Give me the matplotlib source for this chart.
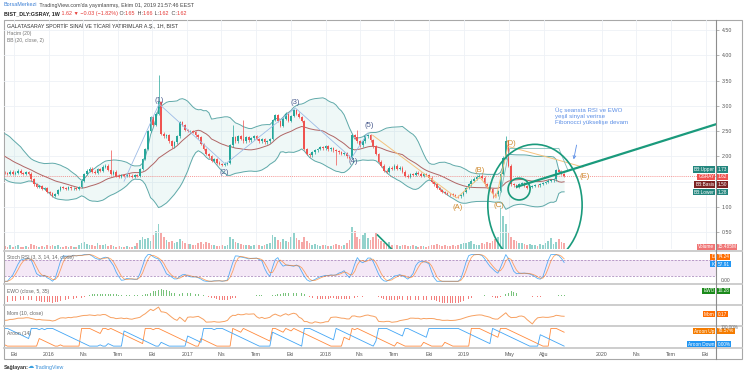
import numpy as np
import pandas as pd
import matplotlib
matplotlib.use("Agg")
import matplotlib.pyplot as plt
import matplotlib.dates as mdates
from matplotlib.patches import Ellipse, Rectangle
from matplotlib.lines import Line2D

plt.rcParams['font.family'] = ['Liberation Sans', 'DejaVu Sans']

# weekly closes BIST_DLY:GSRAY, first week 2015-09-07, last week 2019-09-30
close = [1.67, 1.65, 1.70, 1.66, 1.68, 1.72, 1.67, 1.65, 1.69, 1.66,
         1.55, 1.45, 1.40, 1.42, 1.36, 1.38, 1.30, 1.27, 1.22, 1.26,
         1.34, 1.40, 1.38, 1.36, 1.39, 1.37, 1.38, 1.36, 1.40, 1.52,
         1.65, 1.72, 1.76, 1.70, 1.68, 1.75, 1.72, 1.80, 1.82, 1.74,
         1.66, 1.70, 1.62, 1.60, 1.63, 1.61, 1.64, 1.62, 1.60, 1.63,
         1.62, 1.75, 1.95, 2.15, 2.50, 2.78, 2.62, 2.85, 3.08, 2.45,
         2.40, 2.42, 2.30, 2.20, 2.28, 2.40, 2.68, 2.62, 2.52, 2.50,
         2.50, 2.48, 2.42, 2.38, 2.25, 2.15, 2.05, 2.00, 1.92, 1.95,
         1.88, 1.85, 1.84, 1.86, 1.87, 2.22, 2.38, 2.30, 2.40, 2.35,
         2.30, 2.38, 2.32, 2.36, 2.40, 2.35, 2.30, 2.34, 2.28, 2.30,
         2.35, 2.72, 2.82, 2.70, 2.60, 2.75, 2.85, 2.70, 2.80, 2.92,
         2.85, 2.78, 2.70, 2.15, 2.05, 2.02, 2.08, 2.12, 2.15, 2.18,
         2.16, 2.20, 2.14, 2.17, 2.12, 2.10, 2.08, 2.05, 2.06, 2.00,
         1.98, 2.42, 2.38, 2.30, 2.22, 2.30, 2.40, 2.42, 2.32, 2.20,
         2.05, 1.90, 1.82, 1.72, 1.70, 1.78, 1.75, 1.82, 1.76, 1.78,
         1.70, 1.62, 1.60, 1.65, 1.63, 1.68, 1.66, 1.62, 1.65, 1.63,
         1.58, 1.50, 1.45, 1.38, 1.34, 1.30, 1.28, 1.26, 1.25, 1.24,
         1.22, 1.21, 1.24, 1.30, 1.38, 1.45, 1.52, 1.56, 1.60, 1.62,
         1.58, 1.45, 1.40, 1.36, 1.26, 1.25, 1.32, 1.65, 1.98, 2.30,
         1.82, 1.45, 1.43, 1.40, 1.46, 1.48, 1.42, 1.38, 1.40, 1.42,
         1.44, 1.43, 1.46, 1.48, 1.50, 1.52, 1.53, 1.55, 1.73, 1.70,
         1.65, 1.62]

# earlier weeks (off screen), estimated from where the bands/indicators start
lookback = [2.55, 2.60, 2.52, 2.48, 2.50, 2.45, 2.42, 2.46, 2.40, 2.38,
            2.42, 2.36, 2.40, 2.35, 2.38, 2.36, 2.35, 2.30, 2.28, 2.32,
            2.25, 2.20, 2.18, 2.22, 2.15, 2.10, 2.05, 2.00, 1.95, 1.90,
            1.85, 1.80, 1.75, 1.72, 1.70, 1.68]

# weekly volume, millions
volume_m = [8, 6, 10, 5, 7, 9, 6, 5, 7, 6,
            12, 9, 8, 6, 7, 5, 9, 8, 11, 7,
            10, 6, 5, 7, 6, 8, 5, 6, 9, 14,
            18, 12, 10, 9, 8, 15, 11, 9, 13, 8,
            9, 7, 6, 8, 5, 6, 7, 5, 6, 8,
            15, 22, 30, 25, 28, 20, 35, 45, 60, 38,
            30, 22, 18, 20, 15, 18, 25, 20, 15, 12,
            12, 10, 9, 14, 16, 12, 18, 15, 10, 9,
            8, 7, 9, 8, 10, 30, 25, 18, 14, 12,
            10, 9, 11, 8, 10, 12, 9, 8, 10, 12,
            15, 35, 30, 22, 18, 25, 20, 18, 30, 38,
            28, 22, 18, 30, 20, 14, 10, 12, 9, 8,
            9, 10, 7, 8, 9, 12, 10, 8, 11, 14,
            22, 55, 45, 30, 25, 35, 40, 28, 22, 30,
            38, 25, 20, 15, 12, 18, 10, 12, 9, 8,
            10, 9, 8, 7, 9, 8, 6, 7, 8, 6,
            8, 10, 9, 12, 10, 8, 9, 7, 8, 10,
            8, 10, 12, 15, 14, 18, 20, 12, 10, 11,
            14, 12, 18, 15, 20, 25, 30, 105, 80, 60,
            40, 30, 22, 20, 15, 14, 12, 10, 12, 9,
            10, 8, 12, 9, 15, 20, 28, 12, 18, 25,
            18, 15.485]

wick_high = {40: 2.12, 58: 3.61, 86: 2.62, 90: 2.72, 133: 2.52, 189: 2.40}
wick_low = {125: 1.83, 184: 1.18}

# elliott drawings (week index, price)
wave_blue = [(45.0, 1.51), (58.2, 3.04), (83.2, 1.85), (109.6, 2.96), (130.8, 1.97), (136.9, 2.46)]
wave_orange = [(138.8, 2.42), (170.5, 1.18), (179.2, 1.59), (185.3, 1.18), (189.8, 2.20), (208.7, 1.93), (218.1, 1.79)]
blue_labels = ["(1)", "(2)", "(3)", "(4)", "(5)"]
blue_label_pos = [(58.2, 3.10), (82.8, 1.69), (109.6, 3.06), (131.6, 1.91), (137.6, 2.62)]
orange_labels = ["(A)", "(B)", "(C)", "(D)", "(E)"]
orange_label_pos = [(170.9, 1.00), (179.2, 1.73), (186.4, 1.04), (190.9, 2.26), (218.9, 1.61)]

tick_dates = ["2015-10-01", "2016-01-01", "2016-04-01", "2016-07-01", "2016-10-01",
              "2017-01-01", "2017-04-01", "2017-07-01", "2017-10-01", "2018-01-01",
              "2018-04-01", "2018-07-01", "2018-10-01", "2019-01-01", "2019-05-01",
              "2019-08-01", "2020-01-01", "2020-04-01", "2020-07-01", "2020-10-01"]
tick_labels = ["Eki", "2016", "Nis", "Tem", "Eki", "2017", "Nis", "Tem", "Eki", "2018",
               "Nis", "Tem", "Eki", "2019", "May", "Ağu", "2020", "Nis", "Tem", "Eki"]
price_ticks = [0.5, 1.0, 1.5, 2.0, 2.5, 3.0, 3.5, 4.0, 4.5]
# the 1.50 label sits under the indicator tags
price_labels = ["0.50", "1.00", "", "2.00", "2.50", "3.00", "3.50", "4.00", "4.50"]

GREEN = '#26a69a'
RED = '#ef5350'
TEAL = '#1a9a7c'

# ---- series / indicators
n0 = len(lookback)
c_all = np.array(lookback + close)
o_all = np.r_[c_all[0], c_all[:-1]]
hi_all = np.maximum(o_all, c_all) + 0.025
lo_all = np.minimum(o_all, c_all) - 0.025
for k, v in wick_high.items():
    hi_all[n0 + k] = v
for k, v in wick_low.items():
    lo_all[n0 + k] = v

t0 = mdates.date2num(pd.Timestamp("2015-09-07"))
x_all = t0 + 7 * np.arange(-n0, len(close))
def wk(w):
    return t0 + 7 * w

s = pd.Series(c_all)
basis = s.rolling(20).mean()
dev = s.rolling(20).std(ddof=0)
upper = basis + 2 * dev
lower = basis - 2 * dev

delta = s.diff()
gain = delta.clip(lower=0).ewm(alpha=1 / 14, adjust=False).mean()
loss = (-delta.clip(upper=0)).ewm(alpha=1 / 14, adjust=False).mean()
rsi = 100 - 100 / (1 + gain / loss)
rmin, rmax = rsi.rolling(14).min(), rsi.rolling(14).max()
stoch = (rsi - rmin) / (rmax - rmin) * 100
k_line = stoch.rolling(3).mean()
d_line = k_line.rolling(3).mean()

ewo = (s.rolling(5).mean() - s.rolling(35).mean()) / s * 100
mom = s - s.shift(10)

def aroon(series, n=14, up=True):
    out = np.full(len(series), np.nan)
    for t in range(n, len(series)):
        win = series[t - n:t + 1]
        j = np.argmax(win) if up else np.argmin(win)
        out[t] = 100.0 * j / n
    return out
ar_up = aroon(hi_all, up=True)
ar_dn = aroon(lo_all, up=False)

vis = slice(n0, None)
x = x_all[vis]
o, c, hi, lo = o_all[vis], c_all[vis], hi_all[vis], lo_all[vis]

# ---- layout
W, H = 745, 375
fig = plt.figure(figsize=(7.45, 3.75), dpi=100)
def fx(px): return px / W
def fy(py): return 1 - py / H
L, R = 4, 716
def pane(top, bot):
    a = fig.add_axes([fx(L), fy(bot), (R - L) / W, (bot - top) / H])
    for sp in a.spines.values():
        sp.set_visible(False)
    a.set_xlim(mdates.date2num(pd.Timestamp("2015-09-05")), mdates.date2num(pd.Timestamp("2020-10-28")))
    a.tick_params(length=0, labelbottom=False, labelleft=False)
    return a

ax = pane(20, 249)
ax_st = pane(252, 283)
ax_ew = pane(285, 304)
ax_mo = pane(306, 325)
ax_ar = pane(327, 347)

xt = [mdates.date2num(pd.Timestamp(d)) for d in tick_dates]

# volume behind the price pane
axv = ax.twinx()
for sp in axv.spines.values():
    sp.set_visible(False)
vcol = np.where(c >= o, GREEN, RED)
axv.bar(x, volume_m, width=4.5, color=vcol, alpha=0.5, lw=0)
axv.set_ylim(0, 560)
axv.set_yticks([])
ax.set_zorder(axv.get_zorder() + 1)
ax.patch.set_visible(False)

# price pane
ax.set_ylim(0.17, 4.70)
ax.set_xticks(xt)
ax.set_yticks(price_ticks)
ax.grid(color='#eef1f6', lw=0.6)
ax.set_axisbelow(True)
ax.yaxis.tick_right()
ax.set_yticklabels(price_labels)
ax.tick_params(axis='y', length=2, width=0.5, color='#999', labelsize=3.8,
               labelcolor='#555', pad=2, labelright=True)

ax.fill_between(x, upper[vis], lower[vis], color='#26a69a', alpha=0.07, lw=0, zorder=1)
ax.plot(x, upper[vis], color='#5fa9a9', lw=0.7, zorder=2)
ax.plot(x, lower[vis], color='#5fa9a9', lw=0.7, zorder=2)
ax.plot(x, basis[vis], color='#b06565', lw=0.7, zorder=2)
ax.axhline(c[-1], color=RED, ls=(0, (1.5, 1.5)), lw=0.5, alpha=0.8, zorder=2)

ccol = np.where(c >= o, GREEN, RED)
ax.vlines(x, lo, hi, colors=ccol, lw=0.5, zorder=3)
ax.bar(x, np.maximum(np.abs(c - o), 0.012), bottom=np.minimum(o, c), width=4.5,
       color=ccol, lw=0, zorder=4)

# drawings
bx, by = zip(*wave_blue)
ax.plot([wk(w) for w in bx], by, color='#9dbbe6', lw=0.6, zorder=5)
ox, oy = zip(*wave_orange)
ax.plot([wk(w) for w in ox], oy, color='#f5c27d', lw=0.7, zorder=5)
for lab, (w, p) in zip(blue_labels, blue_label_pos):
    ax.text(wk(w), p, lab, color='#4b5d8f', fontsize=5.5, ha='center', va='center', zorder=6)
for lab, (w, p) in zip(orange_labels, orange_label_pos):
    ax.text(wk(w), p, lab, color='#cf8a2e', fontsize=5.5, ha='center', va='center', zorder=6)
ax.plot([wk(186.5), wk(190.5), wk(209), wk(212.5)], [1.15, 2.16, 2.16, 1.72],
        color='#7fbdb8', lw=0.6, zorder=5)

ax.add_patch(Ellipse((wk(200), 1.04), 249, 2.4, fill=False, ec=TEAL, lw=1.2, zorder=6))
ax.add_patch(Ellipse((wk(194), 1.355), 58, 0.43, fill=False, ec=TEAL, lw=1.2, zorder=6))
ax.plot([wk(192.8), wk(268.4)], [1.395, 2.64], color=TEAL, lw=1.6, zorder=6,
        solid_capstyle='butt')
ax.plot([wk(140.6), wk(146.3)], [0.447, 0.15], color=TEAL, lw=1.2, zorder=6)

ax.text(wk(207.6), 2.97, "Üç seansta RSI ve EWO\nyeşil sinyal verirse\nFibonocci yükselişe devam",
        color='#5b8ee6', fontsize=4.4, ha='left', va='top', linespacing=1.25, zorder=7)
ax.annotate('', xy=(wk(214.4), 1.89), xytext=(wk(215.9), 2.28),
            arrowprops=dict(arrowstyle='->', color='#5b8ee6', lw=0.6, mutation_scale=5), zorder=7)

# stoch rsi
ax_st.set_ylim(-6.4, 109.7)
ax_st.axhspan(20, 80, color='#9c27b0', alpha=0.1, lw=0)
ax_st.axhline(80, color='#a07ab5', ls=(0, (3, 2)), lw=0.5)
ax_st.axhline(20, color='#a07ab5', ls=(0, (3, 2)), lw=0.5)
ax_st.plot(x, k_line[vis], color='#2196f3', lw=0.6, alpha=0.75)
ax_st.plot(x, d_line[vis], color='#ff6d00', lw=0.6, alpha=0.6)

# ewo
ev = ewo[vis].values
ax_ew.bar(x, ev, width=2.2, color=np.where(ev >= 0, '#4caf50', RED), alpha=0.75, lw=0)
ax_ew.set_ylim(np.nanmin(ev) * 1.15, np.nanmax(ev) * 1.6)

# momentum
mv = mom[vis].values
ax_mo.plot(x, mv, color='#f7a060', lw=0.7)
ax_mo.set_ylim(np.nanmin(mv) - 0.15, np.nanmax(mv) + 0.15)

# aroon
ax_ar.set_ylim(-5, 108)
ax_ar.plot(x, ar_up[vis], color='#ff8a3d', lw=0.6)
ax_ar.plot(x, ar_dn[vis], color='#42a5f5', lw=0.6)
ax_ar.set_xticks(xt)
ax_ar.set_xticklabels(tick_labels)
ax_ar.tick_params(axis='x', labelbottom=True, labelsize=3.8, labelcolor='#555', pad=3.5)

# frame and separators
fig.add_artist(Rectangle((fx(4), fy(359)), (742 - 4) / W, (359 - 20) / H, transform=fig.transFigure,
                         fill=False, ec='#a8a8a8', lw=0.8))
for py in [250.5, 284, 305, 326, 347.5]:
    fig.add_artist(Line2D([fx(4), fx(742)], [fy(py), fy(py)], color='#c9c9c9', lw=1.3))
fig.add_artist(Line2D([fx(716), fx(716)], [fy(20), fy(359)], color='#8d8d8d', lw=0.8))

# texts
r = fig.canvas.get_renderer()
def seq_text(px, py, parts, size):
    for txt, col, wt in parts:
        t = fig.text(fx(px), fy(py), txt, color=col, fontweight=wt, fontsize=size, ha='left', va='center')
        px += t.get_window_extent(renderer=r).width

seq_text(4, 5, [("BorsaMerkezi", '#3a7fd5', 'normal'),
                (" TradingView.com'da yayınlanmış, Ekim 01, 2019 21:57:46 EEST", '#444', 'normal')], 3.9)
seq_text(4, 13.5, [("BIST_DLY:GSRAY, 1W", '#222', 'bold'), (" 1.62 ▼ −0.03 (−1.82%)", '#e53935', 'normal'),
                   (" O:", '#444', 'normal'), ("1.65", '#e53935', 'normal'),
                   (" H:", '#444', 'normal'), ("1.66", '#e53935', 'normal'),
                   (" L:", '#444', 'normal'), ("1.62", '#e53935', 'normal'),
                   (" C:", '#444', 'normal'), ("1.62", '#e53935', 'normal')], 3.9)

fig.text(fx(7), fy(26), "GALATASARAY SPORTİF SINAİ VE TİCARİ YATIRIMLAR A.Ş., 1H, BIST",
         fontsize=3.8, color='#333', va='center')
fig.text(fx(7), fy(33.5), "Hacim (20)", fontsize=3.6, color='#777', va='center')
fig.text(fx(7), fy(40.5), "BB (20, close, 2)", fontsize=3.6, color='#777', va='center')
fig.text(fx(7), fy(258), "Stoch RSI (3, 3, 14, 14, close)", fontsize=3.6, color='#666', va='center')
fig.text(fx(7), fy(291), "EWO (close, 5, 35)", fontsize=3.6, color='#666', va='center')
fig.text(fx(7), fy(313), "Mom (10, close)", fontsize=3.6, color='#666', va='center')
fig.text(fx(7), fy(333), "Aroon (14)", fontsize=3.6, color='#666', va='center')

def tag(py, name, val, color):
    box = dict(boxstyle='square,pad=0.2', fc=color, ec='none')
    if name:
        fig.text(fx(714.5), fy(py), name, ha='right', va='center', fontsize=3.4, color='white', bbox=box)
    fig.text(fx(717.5), fy(py), val, ha='left', va='center', fontsize=3.4, color='white', bbox=box)

tag(169.5, "BB:Upper", "1.73", '#23867e')
tag(177, "GSRAY", "1.62", '#ef5350')
tag(184.5, "BB:Basis", "1.50", '#7d2323')
tag(192, "BB:Lower", "1.28", '#23867e')
tag(247, "Volume", "15.485M", '#f07575')
tag(257, "D", "74.24", '#ff6d00')
tag(264, "K", "57.91", '#2196f3')
tag(291, "EWO", "10.28", '#1b8a1b')
tag(314, "Mom", "0.17", '#ff6d00')
tag(331, "Aroon Up", "78.57%", '#f57c00')
tag(344, "Aroon Down", "0.00%", '#2196f3')
fig.text(fx(721), fy(280), "0.00", fontsize=3.5, color='#555', va='center')
fig.text(fx(721), fy(327.5), "100.00%", fontsize=3.3, color='#777', va='center')

fig.text(fx(4), fy(367), "Sağlayan:", fontsize=3.8, color='#333', fontweight='bold', va='center')
fig.text(fx(27.5), fy(367), "☁", fontsize=4.5, color='#3aa0e0', va='center', family='DejaVu Sans')
fig.text(fx(35), fy(367), "TradingView", fontsize=3.8, color='#3a8fd8', va='center')

fig.savefig("out.png", dpi=100, facecolor='white')
